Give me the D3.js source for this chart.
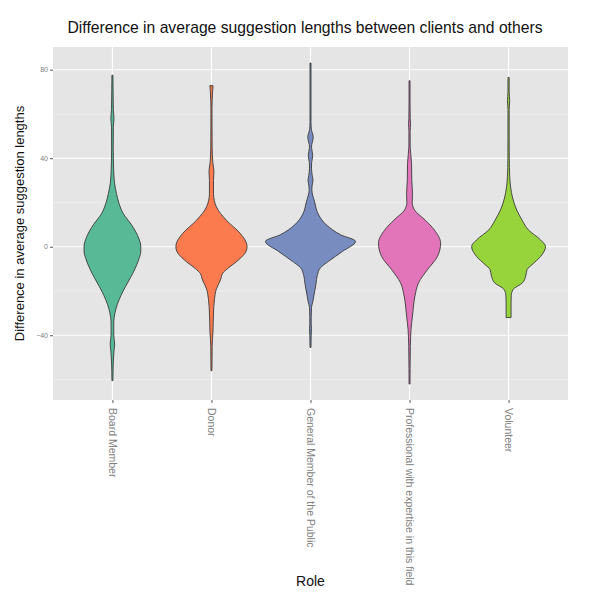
<!DOCTYPE html>
<html>
<head>
<meta charset="utf-8">
<script src="https://d3js.org/d3.v7.min.js"></script>
<style>
  body { margin: 0; background: #fff; }
  svg { font-family: "Liberation Sans", Arial, sans-serif; }
</style>
</head>
<body>
<svg></svg>
<script>
let width = 592;
let height = 592;
let margin = {top: 47, right: 24, bottom: 192, left: 53};

let roles = ["Board Member", "Donor", "General Member of the Public", "Professional with expertise in this field", "Volunteer"];
let colors = ["#57b995", "#fb7a4e", "#788cc0", "#e274b9", "#97d43c"];
let yTicks = [-40, 0, 40, 80];
let yMinor = [-60, -20, 20, 60];

// [difference, density] pairs, density 100 = widest violin
let boardMember = [[77.5,1.1],[70,1.5],[62,2],[58,3.5],[54,2],[45,1.8],[35,2.7],[29,4.5],[24,9],[20,14],[15,24],[10,42],[5,56],[0,63],[-2,63],[-6,58],[-10,50],[-14,40],[-18,29],[-22,19],[-26,11],[-30,5.5],[-34,3],[-40,3],[-44,5],[-47,3.5],[-52,2],[-60.5,1.1]];
let donor = [[72.8,3.5],[70,2.5],[66,1.5],[63,1.2],[55,1.2],[45,1.5],[38,3],[34,5.5],[30,4.5],[24,4.5],[18,11],[12,33],[6,64],[2,77],[0,79],[-2,77],[-6,60],[-10,35],[-12,25],[-15,20],[-19,11],[-24,6.5],[-30,4.5],[-38.6,3.3],[-45,1.5],[-56,1.1]];
let generalPublic = [[83,1.1],[70,1.1],[56,1.1],[53,2],[49.6,6],[45,2.2],[41.3,5],[38,2.5],[35.5,2.2],[32,4],[30,5.5],[27.5,3.5],[25.6,3],[20.4,9],[14.4,18],[9.9,35],[5.4,67],[2.4,100],[-2.1,71],[-6.6,40],[-9.5,22],[-12.6,15.5],[-17,12],[-21.6,8],[-25,5],[-27.4,2.2],[-32,1.5],[-35,1.5],[-37,2.2],[-40,1.5],[-45.5,1.1]];
let professional = [[75,1.1],[65,1.1],[58,1.5],[55.6,2.2],[52,1.3],[45,1.5],[37.6,4.5],[30,5],[24,6.5],[20,6],[16.6,11],[12,35],[7.6,55],[1.6,69],[-4.4,62],[-10.3,40],[-16.3,20],[-22.3,12],[-31.3,6.5],[-37.3,3.3],[-45,1.8],[-55,1.2],[-62,1.1]];
let volunteer = [[76.5,1.3],[70,1.3],[66,2.5],[62,1.3],[50,1.3],[40,1.5],[31.6,2.5],[27,4.5],[22,9],[16.6,18],[12,30],[7.6,44],[3.1,71],[0.1,82],[-4.4,71],[-8.1,52],[-10.3,41],[-13.3,38],[-16.3,31],[-19.3,10],[-22,6],[-25.3,5.5],[-32,5.5]];

let profiles = [boardMember, donor, generalPublic, professional, volunteer];

let svg = d3.select("svg")
    .attr("width", width)
    .attr("height", height);

let plotW = width - margin.left - margin.right;
let plotH = height - margin.top - margin.bottom;

let xScale = d3.scalePoint()
    .domain(roles)
    .range([margin.left, margin.left + plotW])
    .padding(0.6);

let allValues = profiles.flat().map(d => d[0]);
let yMin = d3.min(allValues);
let yMax = d3.max(allValues);
let expand = (yMax - yMin) * 0.05;

let yScale = d3.scaleLinear()
    .domain([yMin - expand, yMax + expand])
    .range([margin.top + plotH, margin.top]);

let wScale = d3.scaleLinear()
    .domain([0, 100])
    .range([0, xScale.step() * 0.455]);

// panel
svg.append("rect")
    .attr("x", margin.left)
    .attr("y", margin.top)
    .attr("width", plotW)
    .attr("height", plotH)
    .attr("fill", "#e5e5e5");

svg.selectAll(".minor")
    .data(yMinor)
    .enter()
    .append("line")
    .attr("x1", margin.left)
    .attr("x2", margin.left + plotW)
    .attr("y1", d => yScale(d))
    .attr("y2", d => yScale(d))
    .attr("stroke", "#f2f2f2")
    .attr("stroke-width", 0.6);

svg.selectAll(".hmajor")
    .data(yTicks)
    .enter()
    .append("line")
    .attr("x1", margin.left)
    .attr("x2", margin.left + plotW)
    .attr("y1", d => yScale(d))
    .attr("y2", d => yScale(d))
    .attr("stroke", "#fff")
    .attr("stroke-width", 1.1);

svg.selectAll(".vmajor")
    .data(roles)
    .enter()
    .append("line")
    .attr("x1", d => xScale(d))
    .attr("x2", d => xScale(d))
    .attr("y1", margin.top)
    .attr("y2", margin.top + plotH)
    .attr("stroke", "#fff")
    .attr("stroke-width", 1.1);

// violins
roles.forEach((role, i) => {
    let cx = xScale(role);
    let area = d3.area()
        .y(d => yScale(d[0]))
        .x0(d => cx - wScale(d[1]))
        .x1(d => cx + wScale(d[1]))
        .curve(d3.curveMonotoneY);
    svg.append("path")
        .datum(profiles[i])
        .attr("d", area)
        .attr("fill", colors[i])
        .attr("stroke", "#3a3a3a")
        .attr("stroke-width", 0.9);
});

// axes
let yAxis = d3.axisLeft(yScale)
    .tickValues(yTicks)
    .tickSize(3)
    .tickPadding(2);

let gy = svg.append("g")
    .attr("transform", "translate(" + margin.left + ",0)")
    .call(yAxis);
gy.select(".domain").remove();
gy.selectAll("line").attr("stroke", "#555");
gy.selectAll("text").attr("fill", "#808080").style("font-size", "7px");

let xAxis = d3.axisBottom(xScale)
    .tickSize(3)
    .tickPadding(0);

let gx = svg.append("g")
    .attr("transform", "translate(0," + (margin.top + plotH) + ")")
    .call(xAxis);
gx.select(".domain").remove();
gx.selectAll("line").attr("stroke", "#555");
gx.selectAll("text")
    .attr("fill", "#808080")
    .style("font-size", "10.5px")
    .attr("text-anchor", "start")
    .attr("transform", "rotate(90)")
    .attr("x", 8)
    .attr("y", 0)
    .attr("dy", "0.35em");

// titles
svg.append("text")
    .text("Difference in average suggestion lengths between clients and others")
    .attr("x", 305)
    .attr("y", 33)
    .attr("text-anchor", "middle")
    .style("font-size", "15.7px")
    .attr("fill", "#111");

svg.append("text")
    .text("Difference in average suggestion lengths")
    .attr("transform", "rotate(-90)")
    .attr("x", -(margin.top + plotH / 2))
    .attr("y", 24)
    .attr("text-anchor", "middle")
    .style("font-size", "13px")
    .attr("fill", "#111");

svg.append("text")
    .text("Role")
    .attr("x", margin.left + plotW / 2)
    .attr("y", 586)
    .attr("text-anchor", "middle")
    .style("font-size", "14px")
    .attr("fill", "#111");
</script>
</body>
</html>
